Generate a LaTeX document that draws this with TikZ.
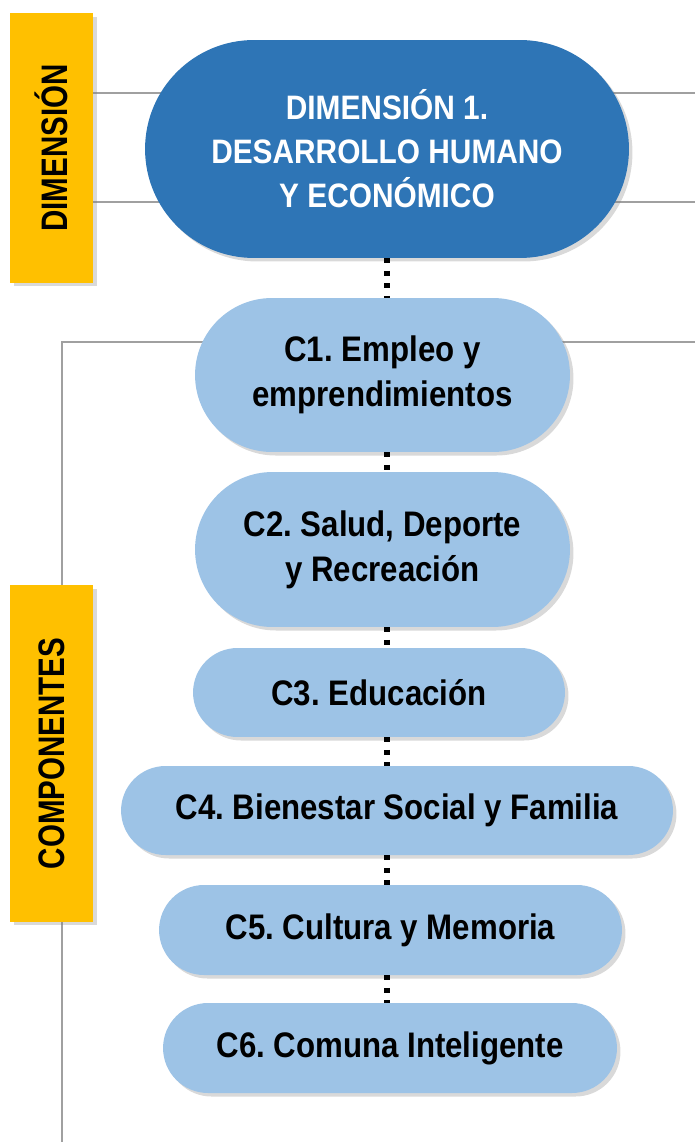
\documentclass[tikz,border=0pt]{standalone}
\usepackage{fontspec}
\setmainfont{Liberation Sans}[FakeStretch=0.88]
\newfontfamily\labfont{Liberation Sans}[FakeStretch=0.8]
\usetikzlibrary{shapes.misc,shadows}
\pgfdeclarelayer{background}
\pgfsetlayers{background,main}
\definecolor{dimblue}{RGB}{46,117,182}
\definecolor{compblue}{RGB}{157,195,230}
\definecolor{labyellow}{RGB}{255,192,0}
\definecolor{linegray}{RGB}{160,160,160}
\frenchspacing

\begin{document}
\begin{tikzpicture}[x=0.02cm,y=-0.02cm,
  shad/.style={drop shadow={shadow xshift=2pt,shadow yshift=-2pt,opacity=0.3}},
  lab/.style={fill=labyellow,shad,minimum width=1.66cm,inner sep=0pt,
    font=\labfont\bfseries\fontsize{21}{24}\selectfont},
  pill/.style={rounded rectangle,shad,inner sep=0pt,align=center,
    font=\bfseries\fontsize{20.2}{25.5}\selectfont},
  comp/.style={pill,fill=compblue,text=black},
  dotline/.style={line width=2.9pt,dash pattern=on 2.9pt off 4.2pt},
  grayline/.style={linegray,line width=0.9pt}]
\useasboundingbox (0,0) rectangle (695,1142);

\node [lab,minimum height=5.4cm] (dimlab) at (51.5,148) {\rotatebox{90}{DIMENSIÓN}};
\node [lab,minimum height=6.74cm] (complab) at (51.5,753.5) {\rotatebox{90}{COMPONENTES}};

\node [pill,fill=dimblue,text=white,minimum width=9.68cm,minimum height=4.36cm,
  font=\bfseries\fontsize{19.3}{25}\selectfont] (dim) at (387,149)
  {DIMENSIÓN 1.\\DESARROLLO HUMANO\\Y ECONÓMICO};
\node [comp,minimum width=7.5cm,minimum height=3.08cm] (c1) at (382.5,375) {C1. Empleo y\\emprendimientos};
\node [comp,minimum width=7.5cm,minimum height=3.1cm] (c2) at (382.5,549.5) {C2. Salud, Deporte\\y Recreación};
\node [comp,minimum width=7.44cm,minimum height=1.78cm] (c3) at (379,692.5) {C3. Educación};
\node [comp,minimum width=11.04cm,minimum height=1.78cm] (c4) at (397,810.5) {C4. Bienestar Social y Familia};
\node [comp,minimum width=9.26cm,minimum height=1.8cm] (c5) at (390.5,930) {C5. Cultura y Memoria};
\node [comp,minimum width=9.08cm,minimum height=1.8cm] (c6) at (390,1048) {C6. Comuna Inteligente};

\foreach \a/\b in {dim/c1,c1/c2,c2/c3,c3/c4,c4/c5,c5/c6}
  \draw [dotline] (dim.south |- \a.south) -- (dim.south |- \b.north);

\begin{pgfonlayer}{background}
\coordinate (e1) at (695,93);
\coordinate (e2) at (695,202);
\coordinate (e3) at (695,342);
\coordinate (e4) at (62,1142);
\draw [grayline] (dimlab.east |- e1) -- (e1);
\draw [grayline] (dimlab.east |- e2) -- (e2);
\draw [grayline] (e3) -- (e4 |- e3) -- (e4);
\end{pgfonlayer}
\end{tikzpicture}
\end{document}
